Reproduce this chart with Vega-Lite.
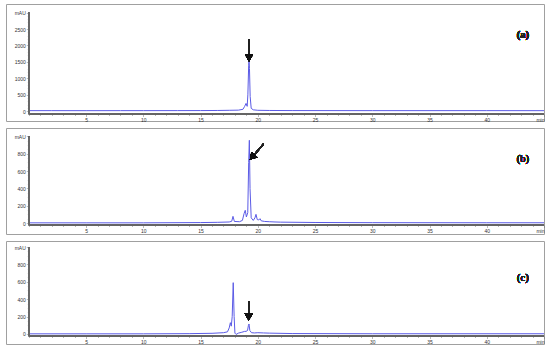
{
  "$schema": "https://vega.github.io/schema/vega-lite/v6.json",
  "padding": {"left": 5, "top": 3, "right": 5, "bottom": 5},
  "spacing": 7,
  "bounds": "flush",
  "background": "white",
  "config": {
    "view": {"stroke": "#a0a0a0", "strokeWidth": 1},
    "axis": {
      "grid": false,
      "domain": false,
      "labelFont": "Liberation Sans",
      "labelFontSize": 5,
      "labelColor": "#333",
      "labelOverlap": false,
      "labelFlush": false,
      "labelBound": false,
      "tickColor": "#777",
      "tickSize": 2.5,
      "tickWidth": 0.5,
      "labelPadding": 1,
      "title": null
    }
  },
  "datasets": {
    "a": [
      {"t": 0, "mAU": 20}, {"t": 2, "mAU": 20}, {"t": 5, "mAU": 19}, {"t": 8, "mAU": 20}, {"t": 10, "mAU": 20},
      {"t": 13, "mAU": 21}, {"t": 15, "mAU": 22}, {"t": 16.5, "mAU": 25}, {"t": 17.5, "mAU": 30}, {"t": 18.3, "mAU": 35},
      {"t": 18.7, "mAU": 60}, {"t": 18.85, "mAU": 150}, {"t": 18.97, "mAU": 240}, {"t": 19.07, "mAU": 150},
      {"t": 19.13, "mAU": 500}, {"t": 19.2, "mAU": 1400}, {"t": 19.23, "mAU": 1560}, {"t": 19.27, "mAU": 1300},
      {"t": 19.33, "mAU": 450}, {"t": 19.42, "mAU": 90}, {"t": 19.6, "mAU": 45}, {"t": 20, "mAU": 30},
      {"t": 21, "mAU": 25}, {"t": 23, "mAU": 22}, {"t": 30, "mAU": 20}, {"t": 40, "mAU": 20}, {"t": 45, "mAU": 19}
    ],
    "b": [
      {"t": 0, "mAU": 2}, {"t": 5, "mAU": 2}, {"t": 10, "mAU": 2}, {"t": 15, "mAU": 5}, {"t": 16.5, "mAU": 8},
      {"t": 17.5, "mAU": 12}, {"t": 17.72, "mAU": 20}, {"t": 17.83, "mAU": 77}, {"t": 17.95, "mAU": 18},
      {"t": 18.4, "mAU": 15}, {"t": 18.65, "mAU": 30}, {"t": 18.8, "mAU": 110}, {"t": 18.9, "mAU": 147},
      {"t": 19.0, "mAU": 70}, {"t": 19.12, "mAU": 120}, {"t": 19.2, "mAU": 700}, {"t": 19.26, "mAU": 956},
      {"t": 19.32, "mAU": 400}, {"t": 19.42, "mAU": 60}, {"t": 19.6, "mAU": 30}, {"t": 19.75, "mAU": 60},
      {"t": 19.84, "mAU": 100}, {"t": 19.95, "mAU": 40}, {"t": 20.08, "mAU": 35}, {"t": 20.19, "mAU": 50},
      {"t": 20.3, "mAU": 25}, {"t": 20.6, "mAU": 18}, {"t": 21, "mAU": 15}, {"t": 21.5, "mAU": 12},
      {"t": 22, "mAU": 10}, {"t": 25, "mAU": 6}, {"t": 30, "mAU": 4}, {"t": 40, "mAU": 3}, {"t": 45, "mAU": 3}
    ],
    "c": [
      {"t": 0, "mAU": 2}, {"t": 5, "mAU": 2}, {"t": 10, "mAU": 2}, {"t": 14, "mAU": 4}, {"t": 16, "mAU": 8},
      {"t": 17, "mAU": 15}, {"t": 17.35, "mAU": 25}, {"t": 17.5, "mAU": 70}, {"t": 17.6, "mAU": 130},
      {"t": 17.68, "mAU": 90}, {"t": 17.76, "mAU": 200}, {"t": 17.85, "mAU": 590}, {"t": 17.93, "mAU": 200},
      {"t": 18.0, "mAU": 10}, {"t": 18.1, "mAU": -5}, {"t": 18.3, "mAU": 10}, {"t": 18.6, "mAU": 20},
      {"t": 18.85, "mAU": 30}, {"t": 18.97, "mAU": 30}, {"t": 19.1, "mAU": 40}, {"t": 19.18, "mAU": 100},
      {"t": 19.23, "mAU": 115}, {"t": 19.3, "mAU": 40}, {"t": 19.45, "mAU": 15}, {"t": 19.7, "mAU": 12},
      {"t": 20, "mAU": 15}, {"t": 20.5, "mAU": 12}, {"t": 21, "mAU": 10}, {"t": 23, "mAU": 5},
      {"t": 30, "mAU": 3}, {"t": 45, "mAU": 3}
    ]
  },
  "vconcat": [
    {
      "width": 538,
      "height": 117,
      "data": {"name": "a"},
      "resolve": {"axis": {"x": "independent", "y": "independent"}},
      "layer": [
        {
          "mark": {"type": "line", "color": "#5b5be6", "strokeWidth": 1, "clip": true},
          "encoding": {
            "x": {"field": "t", "type": "quantitative",
              "scale": {"domain": [-2, 45], "nice": false, "zero": false},
              "axis": {"orient": "bottom", "values": [5,10,15,20,25,30,35,40,45], "offset": -7, "title": null,
                "labelOverlap": false,
                "labelAlign": {"condition": {"test": "datum.value == 45", "value": "right"}, "value": "center"},
                "labelExpr": "datum.value == 45 ? 'min' : datum.label"}},
            "y": {"field": "mAU", "type": "quantitative",
              "scale": {"domain": [-295, 3261], "nice": false, "zero": false},
              "axis": {"orient": "left", "values": [0,500,1000,1500,2000,2500,3000], "offset": -22.8, "title": null,
                "labelOverlap": false, "format": "d",
                "labelExpr": "datum.value == 3000 ? 'mAU' : datum.label"}}
          }
        },
        {"mark": {"type": "rule", "color": "#666", "strokeWidth": 0.6},
          "encoding": {
            "x": {"datum": 0, "axis": {"orient": "bottom", "values": [0,1,2,3,4,6,7,8,9,11,12,13,14,16,17,18,19,21,22,23,24,26,27,28,29,31,32,33,34,36,37,38,39,41,42,43,44], "offset": -7, "labels": false, "tickSize": 1.5, "title": null}},
            "x2": {"datum": 45}, "y": {"datum": -82, "axis": null}}},
        {"mark": {"type": "rule", "color": "#666", "strokeWidth": 0.6},
          "encoding": {
            "x": {"datum": 0, "axis": null},
            "y": {"datum": -82, "axis": {"orient": "left", "values": [100,200,300,400,600,700,800,900,1100,1200,1300,1400,1600,1700,1800,1900,2100,2200,2300,2400,2600,2700,2800,2900], "offset": -22.8, "labels": false, "tickSize": 1.5, "title": null}},
            "y2": {"datum": 3000}}},
        {"mark": {"type": "rule", "color": "#222", "strokeWidth": 1.2},
          "encoding": {"x": {"datum": 19.23, "axis": null}, "y": {"datum": 2197, "axis": null}, "y2": {"datum": 1640}}},
        {"mark": {"type": "point", "shape": "triangle-down", "filled": true, "color": "#111", "size": 64, "opacity": 1},
          "encoding": {"x": {"datum": 19.23, "axis": null}, "y": {"datum": 1620, "axis": null}}},
        {"mark": {"type": "text", "font": "Liberation Serif", "fontSize": 10.5, "fontWeight": "bold", "color": "#222"},
          "encoding": {"x": {"datum": 43.16, "axis": null}, "y": {"datum": 2320, "axis": null}, "text": {"value": "(a)"}}}
      ]
    },
    {
      "width": 538,
      "height": 106,
      "data": {"name": "b"},
      "resolve": {"axis": {"x": "independent", "y": "independent"}},
      "layer": [
        {
          "mark": {"type": "line", "color": "#5b5be6", "strokeWidth": 1, "clip": true},
          "encoding": {
            "x": {"field": "t", "type": "quantitative",
              "scale": {"domain": [-2, 45], "nice": false, "zero": false},
              "axis": {"orient": "bottom", "values": [5,10,15,20,25,30,35,40,45], "offset": -9, "title": null,
                "labelOverlap": false,
                "labelAlign": {"condition": {"test": "datum.value == 45", "value": "right"}, "value": "center"},
                "labelExpr": "datum.value == 45 ? 'min' : datum.label"}},
            "y": {"field": "mAU", "type": "quantitative",
              "scale": {"domain": [-127, 1098], "nice": false, "zero": false},
              "axis": {"orient": "left", "values": [0,200,400,600,800,1000], "offset": -22.8, "title": null,
                "labelOverlap": false, "format": "d",
                "labelExpr": "datum.value == 1000 ? 'mAU' : datum.label"}}
          }
        },
        {"mark": {"type": "rule", "color": "#666", "strokeWidth": 0.6},
          "encoding": {
            "x": {"datum": 0, "axis": {"orient": "bottom", "values": [0,1,2,3,4,6,7,8,9,11,12,13,14,16,17,18,19,21,22,23,24,26,27,28,29,31,32,33,34,36,37,38,39,41,42,43,44], "offset": -9, "labels": false, "tickSize": 1.5, "title": null}},
            "x2": {"datum": 45}, "y": {"datum": -23, "axis": null}}},
        {"mark": {"type": "rule", "color": "#666", "strokeWidth": 0.6},
          "encoding": {
            "x": {"datum": 0, "axis": null},
            "y": {"datum": -23, "axis": {"orient": "left", "values": [50,100,150,250,300,350,450,500,550,650,700,750,850,900,950], "offset": -22.8, "labels": false, "tickSize": 1.5, "title": null}},
            "y2": {"datum": 1000}}},
        {"mark": {"type": "rule", "color": "#222", "strokeWidth": 1.2},
          "encoding": {"x": {"datum": 20.5, "axis": null}, "x2": {"datum": 19.56}, "y": {"datum": 913, "axis": null}, "y2": {"datum": 770}}},
        {"mark": {"type": "point", "shape": "triangle-down", "filled": true, "color": "#111", "size": 64, "opacity": 1, "angle": 41},
          "encoding": {"x": {"datum": 19.5, "axis": null}, "y": {"datum": 760, "axis": null}}},
        {"mark": {"type": "text", "font": "Liberation Serif", "fontSize": 10.5, "color": "#222"},
          "encoding": {"x": {"datum": 43.16, "axis": null}, "y": {"datum": 740, "axis": null}, "text": {"value": "(b)"}}}
      ]
    },
    {
      "width": 538,
      "height": 103,
      "data": {"name": "c"},
      "resolve": {"axis": {"x": "independent", "y": "independent"}},
      "layer": [
        {
          "mark": {"type": "line", "color": "#5b5be6", "strokeWidth": 1, "clip": true},
          "encoding": {
            "x": {"field": "t", "type": "quantitative",
              "scale": {"domain": [-2, 45], "nice": false, "zero": false},
              "axis": {"orient": "bottom", "values": [5,10,15,20,25,30,35,40,45], "offset": -8, "title": null,
                "labelOverlap": false,
                "labelAlign": {"condition": {"test": "datum.value == 45", "value": "right"}, "value": "center"},
                "labelExpr": "datum.value == 45 ? 'min' : datum.label"}},
            "y": {"field": "mAU", "type": "quantitative",
              "scale": {"domain": [-115, 1069], "nice": false, "zero": false},
              "axis": {"orient": "left", "values": [0,200,400,600,800,1000], "offset": -22.8, "title": null,
                "labelOverlap": false, "format": "d",
                "labelExpr": "datum.value == 1000 ? 'mAU' : datum.label"}}
          }
        },
        {"mark": {"type": "rule", "color": "#666", "strokeWidth": 0.6},
          "encoding": {
            "x": {"datum": 0, "axis": {"orient": "bottom", "values": [0,1,2,3,4,6,7,8,9,11,12,13,14,16,17,18,19,21,22,23,24,26,27,28,29,31,32,33,34,36,37,38,39,41,42,43,44], "offset": -8, "labels": false, "tickSize": 1.5, "title": null}},
            "x2": {"datum": 45}, "y": {"datum": -23, "axis": null}}},
        {"mark": {"type": "rule", "color": "#666", "strokeWidth": 0.6},
          "encoding": {
            "x": {"datum": 0, "axis": null},
            "y": {"datum": -23, "axis": {"orient": "left", "values": [50,100,150,250,300,350,450,500,550,650,700,750,850,900,950], "offset": -22.8, "labels": false, "tickSize": 1.5, "title": null}},
            "y2": {"datum": 1000}}},
        {"mark": {"type": "rule", "color": "#222", "strokeWidth": 1.2},
          "encoding": {"x": {"datum": 19.2, "axis": null}, "y": {"datum": 380, "axis": null}, "y2": {"datum": 215}}},
        {"mark": {"type": "point", "shape": "triangle-down", "filled": true, "color": "#111", "size": 64, "opacity": 1},
          "encoding": {"x": {"datum": 19.2, "axis": null}, "y": {"datum": 195, "axis": null}}},
        {"mark": {"type": "text", "font": "Liberation Serif", "fontSize": 10.5, "color": "#222"},
          "encoding": {"x": {"datum": 43.16, "axis": null}, "y": {"datum": 644, "axis": null}, "text": {"value": "(c)"}}}
      ]
    }
  ]
}
